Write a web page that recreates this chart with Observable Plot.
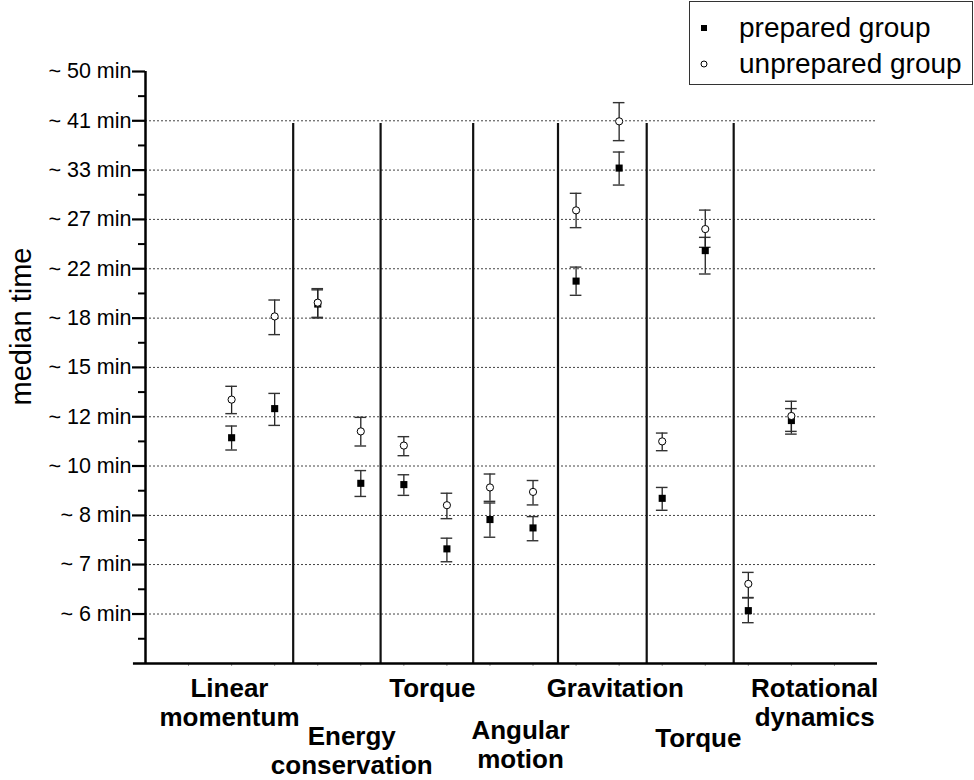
<!DOCTYPE html>
<html>
<head>
<meta charset="utf-8">
<script src="https://cdn.jsdelivr.net/npm/d3@7"></script>
<script src="https://cdn.jsdelivr.net/npm/@observablehq/plot@0.6"></script>
<style>
  body { margin: 0; background: #fff; font-family: "Liberation Sans", Arial, sans-serif; }
  #wrap { position: relative; width: 974px; height: 780px; }
  #legend {
    position: absolute; left: 689px; top: 1px; width: 284px; height: 84px;
    box-sizing: border-box; border: 1px solid #333; background: #fff;
    font-size: 28px; color: #000;
  }
  #legend .row { position: absolute; left: 0; height: 34px; display: flex; align-items: center; }
  #legend .row svg { margin-left: 8px; margin-right: 29px; }
</style>
</head>
<body>
<div id="wrap"><div id="legend"></div></div>
<script>
// Topics, each tested with two problems (two slots per topic)
const topics = ["Linear momentum", "Energy conservation", "Torque", "Angular motion",
                "Gravitation", "Torque", "Rotational dynamics"];

// Median solving time (minutes) per problem slot, with error-bar bounds
const preparedMedian   = [11.95, 13.39, 20.15, 10.00, 9.95, 7.74, 8.68, 8.40, 22.04, 34.28, 9.43, 24.83, 6.08, 12.78];
const preparedLow      = [11.39, 12.54, 19.08, 9.50, 9.54, 7.36, 8.10, 7.99, 20.85, 32.08, 9.00, 22.66, 5.80, 12.12];
const preparedHigh     = [12.51, 14.21, 21.30, 10.51, 10.34, 8.07, 9.26, 8.78, 23.28, 36.50, 9.84, 26.15, 6.39, 13.39];
const unpreparedMedian = [13.87, 19.20, 20.26, 12.25, 11.59, 9.18, 9.84, 9.67, 29.06, 41.15, 11.78, 27.01, 6.75, 13.01];
const unpreparedLow    = [13.13, 17.88, 19.13, 11.57, 11.14, 8.71, 9.32, 9.19, 27.16, 38.16, 11.36, 25.15, 6.40, 12.25];
const unpreparedHigh   = [14.61, 20.47, 21.40, 12.94, 12.00, 9.62, 10.37, 10.11, 31.06, 44.27, 12.17, 29.09, 7.06, 13.78];

// Log-time axis: tick positions (minutes) and their rounded labels
const yTickValues = [6, 7.28, 8.82, 10.70, 12.97, 15.73, 19.07, 23.13, 28.05, 34.01, 41.24, 50];
const yTickLabels = ["~ 6 min", "~ 7 min", "~ 8 min", "~ 10 min", "~ 12 min", "~ 15 min",
                     "~ 18 min", "~ 22 min", "~ 27 min", "~ 33 min", "~ 41 min", "~ 50 min"];

// Topic separators and topic label centres, in slot units
const dividers = [2.43, 4.46, 6.61, 8.58, 10.64, 12.66];
const topicLabelX = [0.95, 3.79, 5.66, 7.71, 9.91, 11.84, 14.54];

const seriesNames = ["prepared group", "unprepared group"];

// ---- build rows ----
const rows = [];
preparedMedian.forEach((m, i) => rows.push({group: seriesNames[0], slot: i + 1, median: m, low: preparedLow[i], high: preparedHigh[i]}));
unpreparedMedian.forEach((m, i) => rows.push({group: seriesNames[1], slot: i + 1, median: m, low: unpreparedLow[i], high: unpreparedHigh[i]}));
const prepared = rows.filter(d => d.group === seriesNames[0]);
const unprepared = rows.filter(d => d.group === seriesNames[1]);

const step = yTickValues[1] / yTickValues[0];
const yMin = yTickValues[0] / step;               // one tick step below the lowest label
const yMax = yTickValues[yTickValues.length - 1];
const minorTicks = [Math.sqrt(yMin * yTickValues[0])];
for (let i = 0; i < yTickValues.length - 1; i++) minorTicks.push(Math.sqrt(yTickValues[i] * yTickValues[i + 1]));
const gridValues = yTickValues.slice(0, -1);
const labelMap = new Map(yTickValues.map((v, i) => [v, yTickLabels[i]]));

const capHalf = 0.135;
const font = '"Liberation Sans", Arial, sans-serif';
// vertical stagger of the topic labels below the axis (px)
const labelDrop = [12.5, 60.5, 12.5, 55, 12.5, 63, 12.5];

const errorMarks = data => [
  Plot.ruleX(data, {x: "slot", y1: "low", y2: "high", stroke: "#222", strokeWidth: 1.3}),
  Plot.ruleY(data, {y: "low", x1: d => d.slot - capHalf, x2: d => d.slot + capHalf, stroke: "#333", strokeWidth: 1.4}),
  Plot.ruleY(data, {y: "high", x1: d => d.slot - capHalf, x2: d => d.slot + capHalf, stroke: "#333", strokeWidth: 1.4})
];

const chart = Plot.plot({
  width: 974,
  height: 780,
  marginLeft: 145,
  marginRight: 97,
  marginTop: 71,
  marginBottom: 117,
  style: {fontFamily: font, background: "transparent", color: "#000"},
  x: {domain: [-1, 16], axis: null},
  y: {type: "log", domain: [yMin, yMax], axis: null},
  marks: [
    // dotted horizontal grid
    Plot.ruleY(gridValues, {x1: -1, x2: 16, stroke: "#444", strokeWidth: 1, strokeDasharray: "2,2"}),
    // topic separators
    Plot.ruleX(dividers, {y1: yMin, y2: 40.8, stroke: "#111", strokeWidth: 2.2}),
    // y axis: minor ticks, major ticks with labels, and line
    Plot.axisY({ticks: minorTicks, tickSize: 7, tickFormat: () => "", strokeWidth: 2, label: null}),
    Plot.axisY({ticks: yTickValues, tickSize: 13, tickPadding: 1, tickFormat: d => labelMap.get(d),
                fontSize: 21.5, strokeWidth: 2.2, label: null}),
    Plot.ruleX([-1], {y1: yMin, y2: yMax, stroke: "#000", strokeWidth: 2.5}),
    // x axis: faint slot ticks and line
    Plot.axisX({ticks: d3.range(0, 16), tickSize: 3, tickFormat: () => "", stroke: "#999", strokeWidth: 1, label: null}),
    Plot.ruleY([yMin], {x1: -1.28, x2: 16, stroke: "#000", strokeWidth: 2.5}),
    // error bars and medians
    ...errorMarks(prepared),
    ...errorMarks(unprepared),
    Plot.dot(prepared, {x: "slot", y: "median", symbol: "square", r: 4, fill: "#000", stroke: "none"}),
    Plot.dot(unprepared, {x: "slot", y: "median", symbol: "circle", r: 3.6, fill: "#fff", stroke: "#000", strokeWidth: 1}),
    // y-axis title
    Plot.text(["median time"], {frameAnchor: "top-left", dx: -115, dy: 255, rotate: -90,
                                textAnchor: "middle", lineAnchor: "bottom", fontSize: 29}),
    // topic labels below the axis
    ...topics.map((t, i) => Plot.text([t], {
      x: topicLabelX[i], frameAnchor: "bottom", dy: labelDrop[i], lineAnchor: "top",
      textAnchor: "middle", text: d => d.replace(" ", "\n"), fontSize: 26, fontWeight: "bold", lineHeight: 1.12
    }))
  ]
});
document.getElementById("wrap").prepend(chart);

// legend box
const legend = document.getElementById("legend");
seriesNames.forEach((name, i) => {
  const row = document.createElement("div");
  row.className = "row";
  row.style.top = (i === 0 ? 9 : 45) + "px";
  const sw = i === 0
    ? '<svg width="12" height="12"><rect x="3" y="3" width="6" height="6" fill="#000"/></svg>'
    : '<svg width="12" height="12"><circle cx="6" cy="6" r="3" fill="#fff" stroke="#000" stroke-width="1"/></svg>';
  row.innerHTML = sw + "<span>" + name + "</span>";
  legend.appendChild(row);
});
</script>
</body>
</html>
